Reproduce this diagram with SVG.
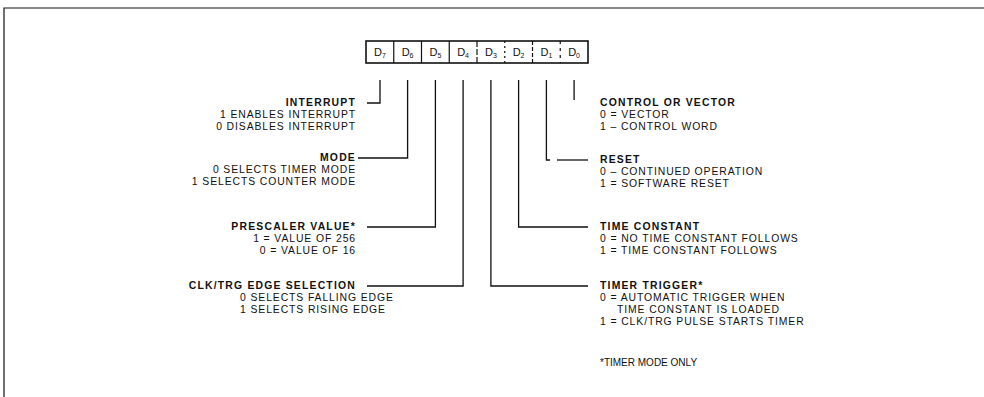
<svg xmlns="http://www.w3.org/2000/svg" width="984" height="397" viewBox="0 0 984 397">
<style>
  .t { font-family: "Liberation Sans", Arial, sans-serif; font-size: 10.4px; letter-spacing: 0.9px; fill: #111; }
  .h { font-weight: bold; letter-spacing: 1.2px; }
  .r { text-anchor: end; }
  .reg { font-family: "Liberation Sans", Arial, sans-serif; font-size: 11px; fill: #111; text-anchor: middle; }
  .sub { font-size: 7px; }
  .ln { fill: none; stroke: #111; stroke-width: 1.3; }
  .fr { fill: none; stroke: #111; stroke-width: 1.2; }
</style>
<rect width="984" height="397" fill="#fff"/>
<path class="fr" d="M4,397 V8 H984"/>

<g id="register">
  <rect x="366" y="41" width="222" height="22" fill="none" stroke="#111" stroke-width="1.6"/>
  <line x1="393.75" y1="41" x2="393.75" y2="63" stroke="#111" stroke-width="1.2"/>
  <line x1="421.5" y1="41" x2="421.5" y2="63" stroke="#111" stroke-width="1.2"/>
  <line x1="449.25" y1="41" x2="449.25" y2="63" stroke="#111" stroke-width="1.2"/>
  <line x1="477" y1="41" x2="477" y2="63" stroke="#111" stroke-width="1.2" stroke-dasharray="6,2"/>
  <line x1="504.75" y1="41" x2="504.75" y2="63" stroke="#111" stroke-width="1.2" stroke-dasharray="2,3"/>
  <line x1="532.5" y1="41" x2="532.5" y2="63" stroke="#111" stroke-width="1.2" stroke-dasharray="4,2"/>
  <line x1="560.25" y1="41" x2="560.25" y2="63" stroke="#111" stroke-width="1.2" stroke-dasharray="3,4"/>
  <text class="reg" x="380" y="56">D<tspan class="sub" dy="2">7</tspan></text>
  <text class="reg" x="407.6" y="56">D<tspan class="sub" dy="2">6</tspan></text>
  <text class="reg" x="435.4" y="56">D<tspan class="sub" dy="2">5</tspan></text>
  <text class="reg" x="463.1" y="56">D<tspan class="sub" dy="2">4</tspan></text>
  <text class="reg" x="490.9" y="56">D<tspan class="sub" dy="2">3</tspan></text>
  <text class="reg" x="518.6" y="56">D<tspan class="sub" dy="2">2</tspan></text>
  <text class="reg" x="546.4" y="56">D<tspan class="sub" dy="2">1</tspan></text>
  <text class="reg" x="574.1" y="56">D<tspan class="sub" dy="2">0</tspan></text>
</g>

<g id="connectors">
  <polyline class="ln" points="380,80 380,103 367,103"/>
  <polyline class="ln" points="407.6,80 407.6,158 358,158"/>
  <polyline class="ln" points="435.4,80 435.4,227 367,227"/>
  <polyline class="ln" points="463.1,80 463.1,286 367,286"/>
  <polyline class="ln" points="490.9,80 490.9,286 588,286"/>
  <polyline class="ln" points="518.6,80 518.6,227 588,227"/>
  <polyline class="ln" points="546.4,80 546.4,160 550,160"/>
  <line class="ln" x1="557" y1="160" x2="588" y2="160"/>
  <line class="ln" x1="574.1" y1="80" x2="574.1" y2="100"/>
</g>

<g id="interrupt">
  <text class="t h r" x="356" y="106">INTERRUPT</text>
  <text class="t r" x="356" y="118">1 ENABLES INTERRUPT</text>
  <text class="t r" x="356" y="130">0 DISABLES INTERRUPT</text>
</g>
<g id="mode">
  <text class="t h r" x="356" y="161">MODE</text>
  <text class="t r" x="356" y="173">0 SELECTS TIMER MODE</text>
  <text class="t r" x="356" y="185">1 SELECTS COUNTER MODE</text>
</g>
<g id="prescaler">
  <text class="t h r" x="356" y="230">PRESCALER VALUE*</text>
  <text class="t r" x="356" y="242">1 = VALUE OF 256</text>
  <text class="t r" x="356" y="254">0 = VALUE OF 16</text>
</g>
<g id="clktrg">
  <text class="t h r" x="356" y="289">CLK/TRG EDGE SELECTION</text>
  <text class="t" x="240" y="301">0 SELECTS FALLING EDGE</text>
  <text class="t" x="240" y="313">1 SELECTS RISING EDGE</text>
</g>

<g id="control">
  <text class="t h" x="600" y="106">CONTROL OR VECTOR</text>
  <text class="t" x="600" y="118">0 = VECTOR</text>
  <text class="t" x="600" y="130">1 – CONTROL WORD</text>
</g>
<g id="reset">
  <text class="t h" x="600" y="163">RESET</text>
  <text class="t" x="600" y="175">0 – CONTINUED OPERATION</text>
  <text class="t" x="600" y="187">1 = SOFTWARE RESET</text>
</g>
<g id="timeconstant">
  <text class="t h" x="600" y="230">TIME CONSTANT</text>
  <text class="t" x="600" y="242">0 = NO TIME CONSTANT FOLLOWS</text>
  <text class="t" x="600" y="254">1 = TIME CONSTANT FOLLOWS</text>
</g>
<g id="trigger">
  <text class="t h" x="600" y="289">TIMER TRIGGER*</text>
  <text class="t" x="600" y="301">0 = AUTOMATIC TRIGGER WHEN</text>
  <text class="t" x="617" y="313">TIME CONSTANT IS LOADED</text>
  <text class="t" x="600" y="325">1 = CLK/TRG PULSE STARTS TIMER</text>
</g>
<g id="note">
  <text class="t" x="600" y="366" style="font-size:10px;letter-spacing:0">*TIMER MODE ONLY</text>
</g>
</svg>
